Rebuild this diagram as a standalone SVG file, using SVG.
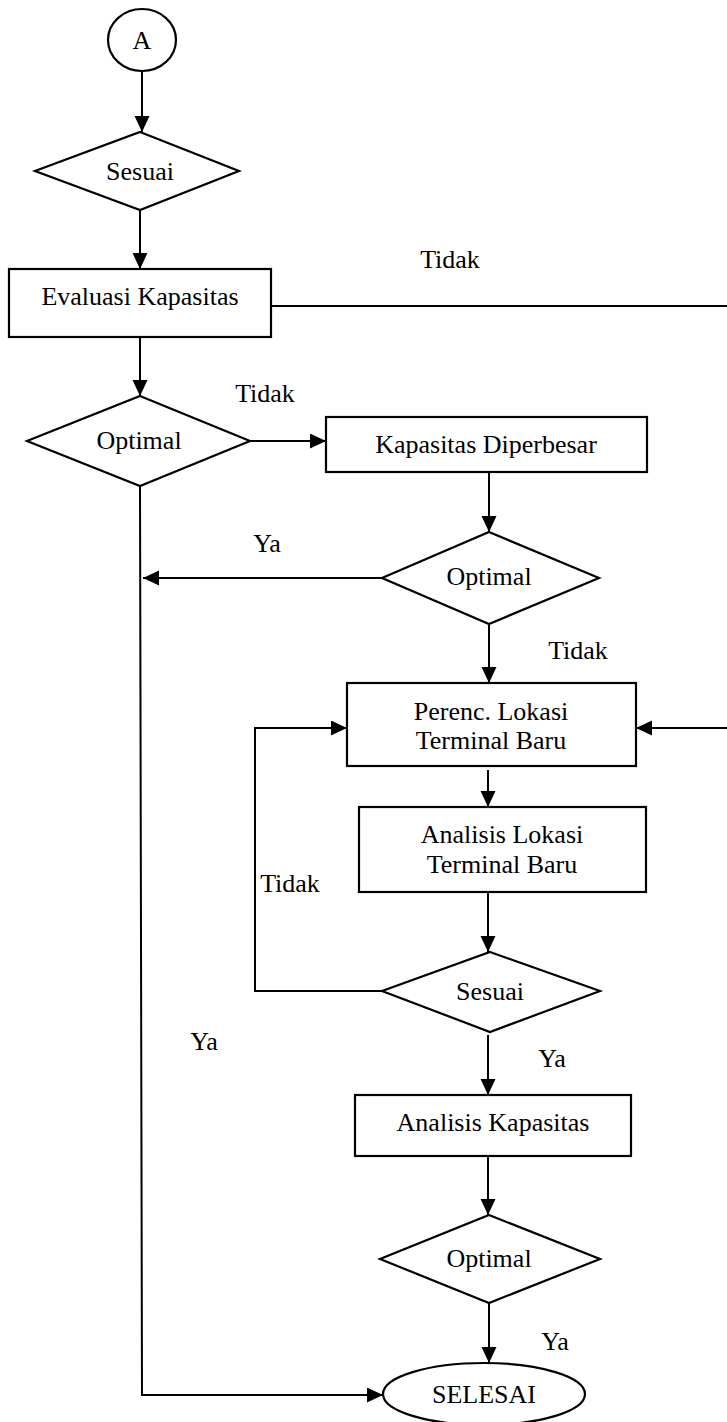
<svg xmlns="http://www.w3.org/2000/svg" width="727" height="1422" viewBox="0 0 727 1422">
<style>
.s{fill:#fff;stroke:#000;stroke-width:2.2}
.c{fill:none;stroke:#000;stroke-width:2}
text{font-family:"Liberation Serif","Times New Roman",serif;font-size:26px;fill:#000}
.m{text-anchor:middle}
</style>
<defs>
<marker id="ah" markerUnits="userSpaceOnUse" markerWidth="17" markerHeight="16" refX="16" refY="7.5" orient="auto">
<path d="M0,0 L16,7.5 L0,15 z" fill="#000"/>
</marker>
</defs>
<rect width="727" height="1422" fill="#fff"/>
<g id="connectors">
<line class="c" x1="142" y1="72" x2="142" y2="132" marker-end="url(#ah)"/>
<line class="c" x1="140" y1="210" x2="140" y2="269" marker-end="url(#ah)"/>
<line class="c" x1="271" y1="306" x2="727" y2="306"/>
<line class="c" x1="140" y1="337" x2="140" y2="396" marker-end="url(#ah)"/>
<line class="c" x1="250" y1="441" x2="326" y2="441" marker-end="url(#ah)"/>
<line class="c" x1="489" y1="472" x2="489" y2="532" marker-end="url(#ah)"/>
<line class="c" x1="382" y1="578" x2="143" y2="578" marker-end="url(#ah)"/>
<polyline class="c" points="140,486 142,1395 383,1395" marker-end="url(#ah)"/>
<line class="c" x1="489" y1="624" x2="489" y2="683" marker-end="url(#ah)"/>
<line class="c" x1="727" y1="728" x2="636" y2="728" marker-end="url(#ah)"/>
<line class="c" x1="488" y1="770" x2="488" y2="807" marker-end="url(#ah)"/>
<line class="c" x1="488" y1="892" x2="488" y2="952" marker-end="url(#ah)"/>
<polyline class="c" points="382,991 255,991 255,728 347,728" marker-end="url(#ah)"/>
<line class="c" x1="488" y1="1035" x2="488" y2="1095" marker-end="url(#ah)"/>
<line class="c" x1="488" y1="1156" x2="488" y2="1215" marker-end="url(#ah)"/>
<line class="c" x1="489" y1="1303" x2="489" y2="1363" marker-end="url(#ah)"/>
<text x="450" y="268" class="m">Tidak</text>
<text x="265" y="402" class="m">Tidak</text>
<text x="267" y="552" class="m">Ya</text>
<text x="578" y="659" class="m">Tidak</text>
<text x="290" y="892" class="m">Tidak</text>
<text x="204" y="1050" class="m">Ya</text>
<text x="552" y="1067" class="m">Ya</text>
<text x="555" y="1350" class="m">Ya</text>
</g>
<g id="start">
<ellipse class="s" cx="142" cy="40" rx="34" ry="31"/>
<text x="142" y="49" class="m">A</text>
</g>
<g id="sesuai1">
<polygon class="s" points="140,132 239,171 140,210 35,171"/>
<text x="140" y="180" class="m">Sesuai</text>
</g>
<g id="evaluasi">
<rect class="s" x="9" y="269" width="262" height="68"/>
<text x="140" y="305" class="m">Evaluasi Kapasitas</text>
</g>
<g id="optimal1">
<polygon class="s" points="140,396 250,441 140,486 27,441"/>
<text x="139" y="449" class="m">Optimal</text>
</g>
<g id="diperbesar">
<rect class="s" x="326" y="417" width="321" height="55"/>
<text x="486" y="453" class="m">Kapasitas Diperbesar</text>
</g>
<g id="optimal2">
<polygon class="s" points="489,532 599,578 489,624 382,578"/>
<text x="489" y="585" class="m">Optimal</text>
</g>
<g id="perenc">
<rect class="s" x="347" y="683" width="289" height="83"/>
<text x="491" y="720" class="m">Perenc. Lokasi</text>
<text x="491" y="749" class="m">Terminal Baru</text>
</g>
<g id="analisisLokasi">
<rect class="s" x="359" y="807" width="287" height="85"/>
<text x="502" y="843" class="m">Analisis Lokasi</text>
<text x="502" y="873" class="m">Terminal Baru</text>
</g>
<g id="sesuai2">
<polygon class="s" points="490,952 600,991 490,1032 382,991"/>
<text x="490" y="1000" class="m">Sesuai</text>
</g>
<g id="analisisKapasitas">
<rect class="s" x="355" y="1095" width="276" height="61"/>
<text x="493" y="1131" class="m">Analisis Kapasitas</text>
</g>
<g id="optimal3">
<polygon class="s" points="489,1215 600,1259 489,1303 380,1259"/>
<text x="489" y="1267" class="m">Optimal</text>
</g>
<g id="selesai">
<ellipse class="s" cx="484" cy="1394" rx="101" ry="31"/>
<text x="484" y="1403" class="m">SELESAI</text>
</g>
</svg>
